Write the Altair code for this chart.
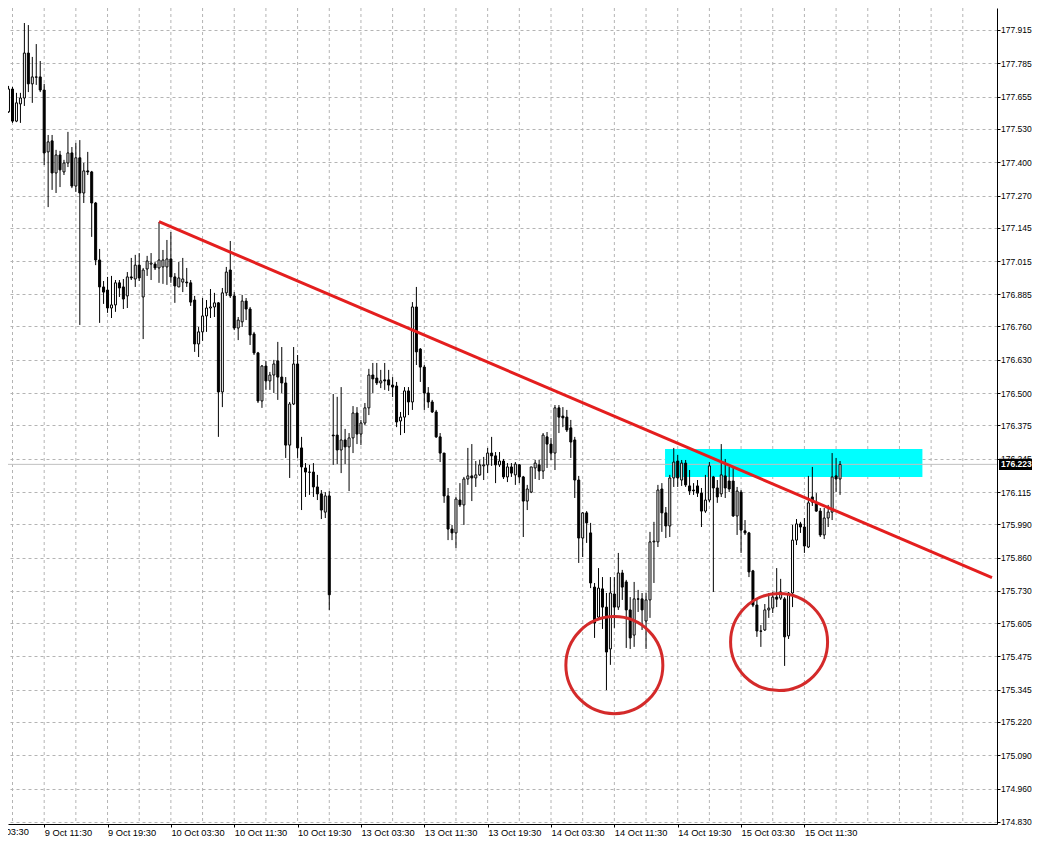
import json
import altair as alt
import pandas as pd

# ---------------- data (M30 candles) ----------------
opens = [177.596,177.685,177.560,177.627,177.650,177.825,177.705,177.732,177.732,177.681,
177.440,177.483,177.358,177.428,177.362,177.397,177.436,177.307,177.417,177.280,
177.366,177.362,177.241,177.019,176.914,176.902,176.832,176.844,176.930,176.914,
176.879,176.953,176.945,176.999,176.875,176.984,177.003,177.003,176.988,176.992,
176.992,177.023,176.953,176.914,176.933,176.933,176.930,176.863,176.692,176.739,
176.801,176.832,176.836,176.852,176.505,176.891,176.980,176.879,176.754,176.778,
176.859,176.828,176.731,176.657,176.470,176.606,176.548,176.571,176.626,176.563,
176.540,176.298,176.458,176.614,176.287,176.209,176.193,176.193,176.135,176.108,
176.037,176.100,176.337,176.337,176.279,176.318,176.291,176.326,176.423,176.341,
176.384,176.443,176.571,176.559,176.540,176.552,176.552,176.532,176.528,176.392,
176.407,176.509,176.466,176.836,176.672,176.602,176.501,176.466,176.427,176.330,
176.267,176.100,175.971,175.956,176.084,176.065,176.166,176.178,176.170,176.182,
176.217,176.221,176.267,176.256,176.221,176.236,176.174,176.213,176.182,176.221,
176.174,176.080,176.115,176.209,176.221,176.197,176.330,176.302,176.267,176.443,
176.411,176.407,176.365,176.318,176.162,175.936,176.034,175.956,175.745,175.628,
175.738,175.667,175.504,175.718,175.667,175.800,175.765,175.656,175.558,175.699,
175.699,175.613,175.695,175.921,175.921,176.127,176.034,175.983,176.170,176.236,
176.162,176.228,176.139,176.123,176.139,176.111,176.041,176.084,176.174,176.131,
176.108,176.178,176.158,176.158,176.022,176.115,175.964,175.956,175.808,175.675,
175.574,175.578,175.656,175.663,175.706,175.702,175.699,175.555,175.722,175.928,
175.991,175.979,175.901,176.096,176.076,176.041,175.948,176.014,176.037,176.178,
176.166]

highs = [177.697,177.693,177.670,177.670,177.942,177.934,177.810,177.860,177.794,177.705,
177.506,177.506,177.448,177.444,177.409,177.518,177.459,177.475,177.486,177.397,
177.440,177.366,177.245,177.062,176.937,176.953,176.957,176.941,176.941,176.945,
176.972,177.027,177.039,177.046,176.988,177.035,177.046,177.011,177.167,177.058,
177.097,177.128,176.968,177.011,177.027,176.988,176.941,176.879,176.758,176.871,
176.863,176.906,176.891,176.855,176.910,176.992,177.093,176.894,176.797,176.883,
176.871,176.836,176.739,176.661,176.610,176.626,176.583,176.630,176.700,176.680,
176.563,176.466,176.680,176.649,176.330,176.228,176.221,176.228,176.182,176.123,
176.115,176.119,176.497,176.486,176.524,176.361,176.345,176.450,176.446,176.396,
176.462,176.595,176.618,176.618,176.591,176.618,176.591,176.563,176.544,176.427,
176.524,176.524,176.855,176.914,176.676,176.610,176.524,176.474,176.435,176.345,
176.267,176.131,175.987,176.096,176.150,176.174,176.287,176.302,176.236,176.240,
176.252,176.287,176.330,176.271,176.271,176.244,176.228,176.228,176.232,176.224,
176.178,176.143,176.213,176.240,176.240,176.345,176.349,176.326,176.454,176.454,
176.446,176.435,176.396,176.330,176.178,176.037,176.041,175.995,175.761,175.819,
175.784,175.722,175.784,175.784,175.878,175.812,175.773,175.706,175.765,175.734,
175.722,175.722,175.960,175.999,176.143,176.150,176.057,176.182,176.287,176.260,
176.240,176.240,176.201,176.150,176.162,176.131,176.182,176.232,176.178,176.162,
176.302,176.244,176.213,176.209,176.135,176.123,176.006,175.960,175.812,175.695,
175.597,175.679,175.722,175.726,175.819,175.777,175.706,175.726,175.987,176.010,
175.999,176.014,176.178,176.213,176.111,176.053,176.053,176.065,176.267,176.248,
176.236]

lows = [177.592,177.553,177.556,177.553,177.619,177.673,177.631,177.701,177.673,177.389,
177.225,177.292,177.280,177.303,177.350,177.381,177.299,177.284,176.766,177.241,
177.350,177.109,176.999,176.774,176.848,176.813,176.793,176.817,176.875,176.828,
176.832,176.941,176.914,176.937,176.711,176.957,176.941,176.980,176.930,176.926,
176.922,176.930,176.852,176.914,176.894,176.914,176.840,176.661,176.641,176.704,
176.739,176.793,176.797,176.330,176.446,176.879,176.871,176.746,176.707,176.758,
176.785,176.688,176.649,176.462,176.443,176.513,176.513,176.501,176.474,176.501,
176.248,176.170,176.454,176.248,176.045,176.096,176.104,176.096,176.084,176.010,
176.014,175.656,176.221,176.224,176.189,176.224,176.119,176.267,176.302,176.298,
176.376,176.415,176.501,176.532,176.520,176.513,176.509,176.485,176.368,176.337,
176.345,176.415,176.435,176.610,176.544,176.435,176.443,176.423,176.326,176.232,
176.073,175.928,175.928,175.897,176.057,175.987,176.143,176.080,176.135,176.178,
176.162,176.189,176.217,176.150,176.213,176.166,176.154,176.174,176.143,176.150,
175.940,176.045,176.111,176.166,176.162,176.166,176.209,176.240,176.201,176.345,
176.368,176.349,176.248,176.092,175.839,175.862,175.917,175.741,175.547,175.617,
175.582,175.344,175.442,175.586,175.656,175.695,175.508,175.504,175.512,175.648,
175.578,175.504,175.625,175.761,175.901,175.960,175.936,175.940,176.135,176.135,
176.139,176.135,176.104,176.104,176.096,175.979,176.034,176.076,175.726,176.073,
176.096,176.092,176.115,176.018,175.948,175.878,175.948,175.784,175.667,175.551,
175.512,175.574,175.625,175.644,175.667,175.695,175.438,175.543,175.667,175.909,
175.956,175.878,175.897,176.061,176.038,175.940,175.932,175.979,176.006,176.115,
176.104]

closes = [177.685,177.560,177.631,177.650,177.825,177.705,177.732,177.731,177.681,177.436,
177.479,177.358,177.428,177.370,177.397,177.436,177.307,177.417,177.280,177.366,
177.362,177.241,177.019,176.914,176.894,176.832,176.844,176.930,176.910,176.867,
176.953,176.949,176.999,176.949,176.980,177.015,177.007,176.988,177.019,177.019,
177.023,176.953,176.918,176.949,176.945,176.930,176.855,176.692,176.739,176.801,
176.832,176.836,176.852,176.505,176.891,176.972,176.879,176.754,176.785,176.859,
176.828,176.727,176.657,176.470,176.606,176.548,176.571,176.614,176.563,176.540,
176.298,176.458,176.614,176.287,176.213,176.193,176.192,176.135,176.108,176.045,
176.100,175.715,176.334,176.279,176.318,176.291,176.326,176.423,176.341,176.384,
176.443,176.571,176.556,176.540,176.548,176.548,176.532,176.524,176.388,176.407,
176.509,176.466,176.836,176.661,176.602,176.501,176.466,176.427,176.330,176.267,
176.100,175.971,175.956,176.088,176.065,176.166,176.178,176.170,176.182,176.221,
176.221,176.267,176.256,176.221,176.236,176.174,176.213,176.189,176.224,176.174,
176.080,176.127,176.213,176.228,176.197,176.337,176.302,176.267,176.443,176.407,
176.404,176.357,176.310,176.162,175.936,176.034,175.995,175.761,175.605,175.741,
175.667,175.492,175.722,175.667,175.800,175.745,175.656,175.547,175.699,175.698,
175.656,175.695,175.921,175.924,176.123,176.034,175.983,176.170,176.232,176.170,
176.228,176.143,176.119,176.120,176.111,176.041,176.084,176.217,176.131,176.096,
176.182,176.131,176.127,176.022,176.119,175.967,175.956,175.804,175.675,175.574,
175.573,175.656,175.663,175.706,175.698,175.726,175.551,175.722,175.928,175.991,
175.979,175.905,176.073,176.076,176.041,175.948,176.014,176.037,176.174,176.166,
176.223]

bars = list(range(len(opens)))

# time axis labels (bar index -> label)
tick_bars = [9, 25, 41, 57, 73, 89, 105, 121, 137, 153, 169, 185, 201]
tick_labels = ["9 Oct 11:30", "9 Oct 19:30", "10 Oct 03:30", "10 Oct 11:30",
               "10 Oct 19:30", "13 Oct 03:30", "13 Oct 11:30", "13 Oct 19:30",
               "14 Oct 03:30", "14 Oct 11:30", "14 Oct 19:30", "15 Oct 03:30",
               "15 Oct 11:30"]
first_label_bar = [-7]
first_label_text = ["9 Oct 03:30"]

# vertical grid every 8 bars
grid_bars = [1, 9, 17, 25, 33, 41, 49, 57, 65, 73, 81, 89, 97, 105, 113, 121, 129,
             137, 145, 153, 161, 169, 177, 185, 193, 201, 209, 217, 225, 233, 241]

# price axis labels
price_ticks = [177.915, 177.785, 177.655, 177.530, 177.400, 177.270, 177.145,
               177.015, 176.885, 176.760, 176.630, 176.500, 176.375, 176.245,
               176.115, 175.990, 175.860, 175.730, 175.605, 175.475, 175.345,
               175.220, 175.090, 174.960, 174.830]

# annotations
trend_x = [38, 248.375]
trend_y = [177.168, 175.782]
zone_x = [165.8, 230.8]
zone_y = [176.283, 176.174]
circle_x = [153, 194.6]
circle_y = [175.441, 175.531]
bid_price = 176.223

# ---------------- chart ----------------
W, H = 989, 816
PAD_R, PAD_B = 35, 13
FONT = "Liberation Sans"
GRID = "#b4b4b4"

xscale = alt.Scale(domain=[1.125, 248.375], nice=False, zero=False)
yscale = alt.Scale(domain=[174.8222, 178.0005], nice=False, zero=False)

label_expr = "%s[indexof(%s, datum.value)]" % (json.dumps(tick_labels),
                                                json.dumps(tick_bars))

xaxis = alt.Axis(orient="bottom", values=tick_bars, labelExpr=label_expr,
                 title=None, grid=False, tickSize=3, tickColor="black",
                 domainColor="black", labelAlign="left", labelBaseline="top",
                 labelPadding=1, labelOffset=0, labelFont=FONT, labelFontSize=9.3,
                 labelColor="black", labelOverlap=False, labelFlush=False,
                 labelBound=False)

yaxis = alt.Axis(orient="right", values=price_ticks, format=".3f", title=None,
                 grid=True, gridColor=GRID, gridDash=[3, 3], gridWidth=1,
                 tickSize=3, tickColor="black", domainColor="black",
                 labelPadding=0.5, labelFont=FONT, labelFontSize=8.5,
                 labelColor="black", labelOverlap=False, labelFlush=False,
                 labelBaseline="middle")

X = alt.X("x:Q", scale=xscale, axis=xaxis)
Y = alt.Y("y:Q", scale=yscale, axis=yaxis)

wick_df = pd.DataFrame({"x": bars, "y": lows, "y2": highs})
body_df = pd.DataFrame({"x": bars, "y": opens, "y2": closes,
                        "dir": ["up" if c > o else "down" for o, c in zip(opens, closes)]})

vgrid = alt.Chart(pd.DataFrame({"x": grid_bars})).mark_rule(
    color=GRID, strokeDash=[3, 3], strokeWidth=1
).encode(x=X)

zone = alt.Chart(pd.DataFrame({"x": [zone_x[0]], "x2": [zone_x[1]],
                               "y": [zone_y[0]], "y2": [zone_y[1]]})).mark_rect(
    color="#00ffff"
).encode(x=X, x2="x2:Q", y=Y, y2="y2:Q")

bid = alt.Chart(pd.DataFrame({"y": [bid_price]})).mark_rule(
    color="#c0c0c0", strokeWidth=1
).encode(y=Y)

wick = alt.Chart(wick_df).mark_rule(color="black", strokeWidth=1).encode(
    x=X, y=Y, y2="y2:Q")

body = alt.Chart(body_df).mark_bar(size=2, stroke="black", strokeWidth=1).encode(
    x=X, y=Y, y2="y2:Q",
    fill=alt.Fill("dir:N", scale=alt.Scale(domain=["up", "down"],
                                           range=["#ffffff", "#000000"]),
                  legend=None))

trend = alt.Chart(pd.DataFrame({"x": [trend_x[0]], "x2": [trend_x[1]],
                                "y": [trend_y[0]], "y2": [trend_y[1]]})).mark_rule(
    color="#e41e1e", strokeWidth=3
).encode(x=X, x2="x2:Q", y=Y, y2="y2:Q")

circles = alt.Chart(pd.DataFrame({"x": circle_x, "y": circle_y})).mark_point(
    shape="circle", filled=False, size=9409, color="#d42a2a", strokeWidth=3,
    opacity=1
).encode(x=X, y=Y)

tag_box = alt.Chart(pd.DataFrame({"y": [bid_price + 0.0215],
                                  "y2": [bid_price - 0.0215]})).mark_rect(
    color="black"
).encode(x=alt.value(W + 2), x2=alt.value(W + PAD_R), y=Y, y2="y2:Q")

tag_text = alt.Chart(pd.DataFrame({"y": [bid_price],
                                   "label": ["%.3f" % bid_price]})).mark_text(
    align="left", baseline="middle", color="white", font=FONT, fontSize=8.5,
    fontWeight="bold"
).encode(x=alt.value(W + 4), y=Y, text="label:N")

first_lbl = alt.Chart(pd.DataFrame({"x": first_label_bar,
                                    "label": first_label_text})).mark_text(
    align="left", baseline="top", color="black", font=FONT, fontSize=9.3
).encode(x=X, y=alt.value(H + 4), text="label:N")

chart = alt.layer(
    vgrid, zone, bid, wick, body, trend, circles, tag_box, tag_text, first_lbl
).properties(
    width=W, height=H,
    autosize=alt.AutoSizeParams(type="none"),
    padding={"left": 0, "top": 0, "right": PAD_R, "bottom": PAD_B},
    background="white",
).configure(font=FONT).configure_view(stroke=None)

chart.save("out.html", embed_options={"renderer": "svg", "actions": False})
